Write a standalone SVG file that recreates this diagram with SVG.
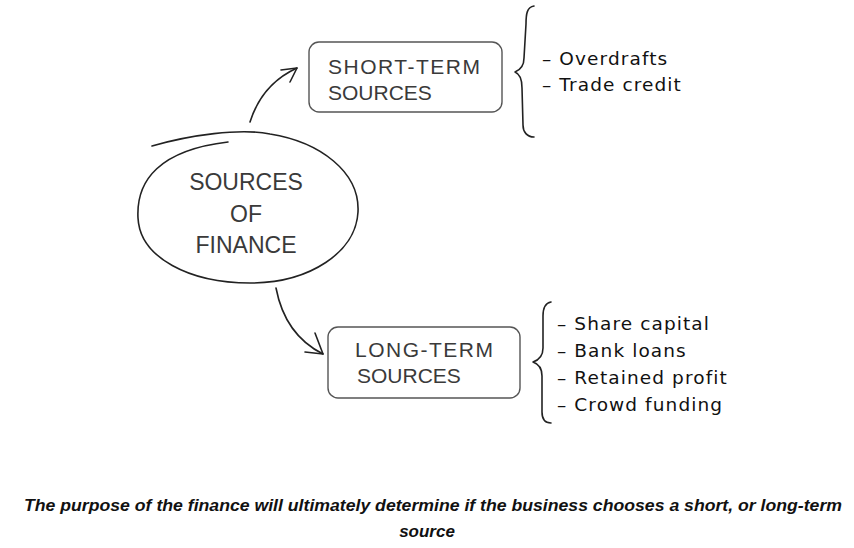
<svg xmlns="http://www.w3.org/2000/svg" width="854" height="548" viewBox="0 0 854 548">
<defs>
<style>
.stroke{fill:none;stroke:#222;stroke-width:1.6;stroke-linecap:round;stroke-linejoin:round}
.box{fill:#fff;stroke:#555;stroke-width:1.4}
.node{font-family:"Liberation Sans",Arial,sans-serif;fill:#3a3a3a;text-anchor:middle}
.boxtext{font-family:"Liberation Sans",Arial,sans-serif;fill:#3a3a3a;font-size:21px}
.item{font-family:"DejaVu Sans","Liberation Sans",sans-serif;font-size:18.5px;fill:#111;letter-spacing:1.1px}
.caption{font-family:"Liberation Sans",Arial,sans-serif;font-size:17px;font-style:italic;font-weight:bold;fill:#111;text-anchor:middle}
</style>
</defs>
<rect width="854" height="548" fill="#fff"/>
<g id="connectors">
<path class="stroke" d="M250,122 Q262,84 297,68"/>
<path class="stroke" d="M281,70 L297,68 L290,82"/>
<path class="stroke" d="M276,288 Q285,335 323,354"/>
<path class="stroke" d="M315,333 L323,354 L305,352"/>
</g>
<g id="sources-of-finance">
<path class="stroke" d="M152,146 C190,135 240,128 270,134 C320,142 360,172 358,212 C356,252 310,283 250,283 C190,283 140,258 138,218 C136,180 160,150 228,142"/>
<text class="node" font-size="23" x="246" y="190">SOURCES</text>
<text class="node" font-size="23" x="246" y="222">OF</text>
<text class="node" font-size="23" x="246" y="253">FINANCE</text>
</g>
<g id="short-term">
<rect class="box" x="309" y="42" width="193" height="70" rx="10"/>
<text class="boxtext" x="328" y="74" letter-spacing="1.5">SHORT-TERM</text>
<text class="boxtext" x="328" y="100">SOURCES</text>
</g>
<g id="short-term-items">
<path class="stroke" d="M534,6 C527,7 526,14 526,24 L524,58 C524,66 520,70 515,72 C520,74 522,80 522,88 L523,125 C523,132 527,137 534,137"/>
<text class="item" x="542" y="65">– Overdrafts</text>
<text class="item" x="542" y="91">– Trade credit</text>
</g>
<g id="long-term">
<rect class="box" x="328" y="327" width="192" height="71" rx="10"/>
<text class="boxtext" x="355" y="357" letter-spacing="1.5">LONG-TERM</text>
<text class="boxtext" x="357" y="383">SOURCES</text>
</g>
<g id="long-term-items">
<path class="stroke" d="M551,302 C545,303 543,308 543,316 L543,348 C543,356 539,360 533,362 C539,364 542,368 542,376 L542,412 C542,420 546,423 551,423"/>
<text class="item" x="557" y="330">– Share capital</text>
<text class="item" x="557" y="357">– Bank loans</text>
<text class="item" x="557" y="384">– Retained profit</text>
<text class="item" x="557" y="411">– Crowd funding</text>
</g>
<g id="caption">
<text class="caption" x="433" y="511" textLength="818" lengthAdjust="spacingAndGlyphs">The purpose of the finance will ultimately determine if the business chooses a short, or long-term</text>
<text class="caption" x="427" y="537">source</text>
</g>
</svg>
